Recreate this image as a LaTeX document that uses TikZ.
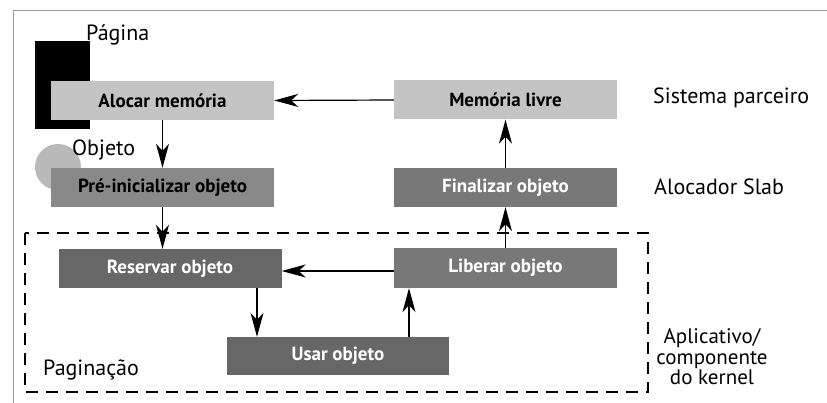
\documentclass[tikz,border=0pt]{standalone}
\usepackage{fontspec}
\setmainfont{PT Sans}
\usetikzlibrary{arrows.meta,calc}
\definecolor{lightbox}{HTML}{C4C4C4}
\definecolor{midbox}{HTML}{898989}
\definecolor{darkbox}{HTML}{787878}
\definecolor{deepbox}{HTML}{676767}
\definecolor{framegray}{HTML}{9A9A9A}
\begin{document}
\begin{tikzpicture}[x=1pt,y=-1pt,
  font=\fontsize{20}{23}\selectfont,
  box/.style={rectangle,minimum width=223pt,minimum height=39pt,inner sep=0pt,
    font=\fontsize{19}{22}\selectfont\bfseries},
  lightstep/.style={box,fill=lightbox,text=black},
  midstep/.style={box,fill=midbox,text=black},
  darkstep/.style={box,fill=darkbox,text=white},
  deepstep/.style={box,fill=deepbox,text=white},
  lbl/.style={inner sep=0pt,anchor=west,font=\fontsize{22}{24}\selectfont},
  flow/.style={line width=1.2pt,-{Stealth[length=24pt,width=13pt,inset=7pt]}}]
\useasboundingbox (0,0) rectangle (827,403);
% outer frame (left and top edges)
\draw[framegray,line width=0.6pt] (13,403) -- (13,10) -- (827,10);

% page and object symbols behind the first two steps
\fill[black] (35,41) rectangle (90,129);
\fill[gray!55] (58,167) circle (23);

% slab-layer boundary
\draw[line width=1.4pt,dash pattern=on 12pt off 8pt] (25,233) rectangle (648,392);

% steps
\node[lightstep] (alocar) at (162.5,100.5) {Alocar memória};
\node[lightstep] (livre) at (505.5,100) {Memória livre};
\node[midstep] (pre) at (162.5,187.5) {Pré-inicializar objeto};
\node[darkstep] (final) at (505.5,187.5) {Finalizar objeto};
\node[deepstep] (reservar) at (170,268.5) {Reservar objeto};
\node[darkstep,minimum height=40pt] (liberar) at (505.5,268) {Liberar objeto};
\node[deepstep,minimum width=222pt,minimum height=38pt] (usar) at (338,356) {Usar objeto};

% labels
\node[lbl] (pagina) at (86,35) {Página};
\node[lbl] (objeto) at (72,150) {Objeto};
\node[lbl] (buddy) at (653,98) {Sistema parceiro};
\node[lbl] (slab) at (654,187) {Alocador Slab};
\node[lbl] (pagin) at (43,370) {Paginação};
\node[align=center,inner sep=0pt,font=\fontsize{21}{20.5}\selectfont] (app) at (712,357) {Aplicativo/\\componente\\do kernel};

% connectors
\draw[flow] (livre.west) -- (alocar.east);
\draw[flow] (alocar.south) -- (pre.north);
\draw[flow] (pre.south) -- (pre.south |- reservar.north);
\draw[flow] (final.north) -- (livre.south);
\draw[flow] (liberar.north) -- (final.south);
\draw[flow] (liberar.west |- 0,271) -- (reservar.east |- 0,271);
\draw[flow] (reservar.south -| 257,0) -- (usar.north -| 257,0);
\draw[flow] (usar.north -| 409,0) -- (liberar.south -| 409,0);
\end{tikzpicture}
\end{document}
